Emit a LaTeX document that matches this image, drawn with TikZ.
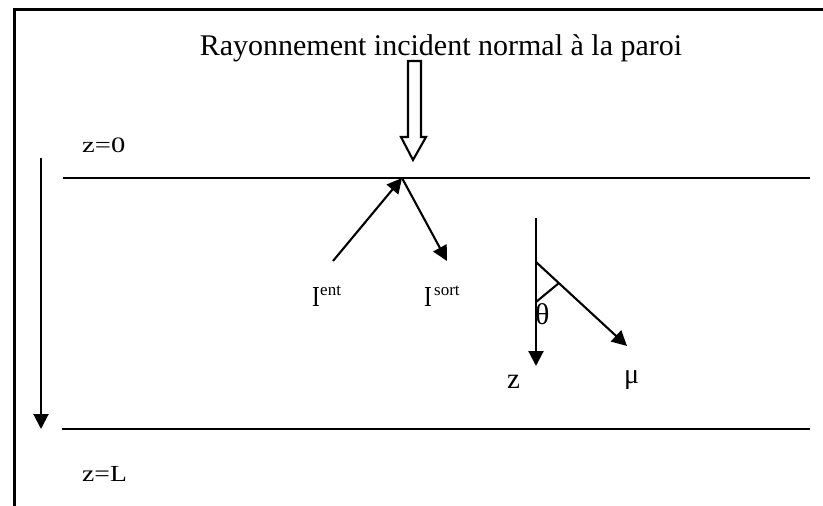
\documentclass[tikz,border=0pt]{standalone}
\usepackage{fontspec}
\usepackage{graphicx}
\setmainfont{Liberation Serif}
\usetikzlibrary{arrows.meta}
\begin{document}
\begin{tikzpicture}[x=1pt,y=-1pt,
  thinline/.style={line width=2.1pt},
  arr/.style={line width=2.1pt,-{Triangle[length=15pt,width=15pt]}},
  lbl/.style={inner sep=0pt, anchor=base west},
]
\useasboundingbox (0,0) rectangle (823,506);
% frame
\coordinate (fbl) at (14,506);
\coordinate (ftl) at (14,9);
\coordinate (ftr) at (823,9);
\draw[line width=3pt] (fbl) -- (ftl) -- (ftr);
% title
\node[font=\fontsize{30}{36}\selectfont, anchor=base, inner sep=0pt] (title) at (441,55) {Rayonnement incident normal à la paroi};
% hollow arrow
\coordinate (h1) at (408,61);
\coordinate (h2) at (421,61);
\coordinate (h3) at (421,137);
\coordinate (h4) at (426,137);
\coordinate (h5) at (413,160);
\coordinate (h6) at (401,137);
\coordinate (h7) at (408,137);
\draw[thinline, line join=miter] (h1) -- (h2) -- (h3) -- (h4) -- (h5) -- (h6) -- (h7) -- cycle;
% walls
\coordinate (z0a) at (63,178);
\coordinate (z0b) at (810,178);
\coordinate (zLa) at (62,429);
\coordinate (zLb) at (810,429);
\draw[thinline] (z0a) -- (z0b);
\draw[thinline] (zLa) -- (zLb);
\node[lbl, font=\fontsize{22}{26}\selectfont] (lz0) at (82,152) {\scalebox{1.3}[1]{z=0}};
\node[lbl, font=\fontsize{23}{27}\selectfont] (lzL) at (82,481) {\scalebox{1.2}[1]{z=L}};
% left depth arrow
\coordinate (da) at (41,158);
\coordinate (db) at (41,429);
\draw[arr] (da) -- (db);
% reflection
\coordinate (P) at (402,178);
\coordinate (ient) at (333,261);
\coordinate (isort) at (447,261);
\draw[arr] (ient) -- (P);
\draw[arr] (P) -- (isort);
\node[lbl, font=\fontsize{29}{32}\selectfont] (Ie) at (312,306) {\scalebox{0.8}[1]{I}};
\node[lbl, font=\fontsize{17}{20}\selectfont] (ent) at (320,295) {ent};
\node[lbl, font=\fontsize{29}{32}\selectfont] (Is) at (424,306) {\scalebox{0.8}[1]{I}};
\node[lbl, font=\fontsize{17}{20}\selectfont] (sort) at (434,295) {sort};
% angle
\coordinate (zt) at (536,218);
\coordinate (zb) at (536,366);
\coordinate (m0) at (536,262);
\coordinate (m1) at (627,346);
\coordinate (t0) at (536,302);
\coordinate (t1) at (559,283);
\draw[arr] (zt) -- (zb);
\draw[arr] (m0) -- (m1);
\draw[thinline] (t0) -- (t1);
\node[lbl, font=\fontsize{30}{34}\selectfont] (th) at (535,324) {θ};
\node[lbl, font=\fontsize{29}{32}\selectfont] (zz) at (507,388) {z};
\node[lbl, font=\fontsize{28}{32}\selectfont] (mu) at (624,383) {μ};
\end{tikzpicture}
\end{document}
